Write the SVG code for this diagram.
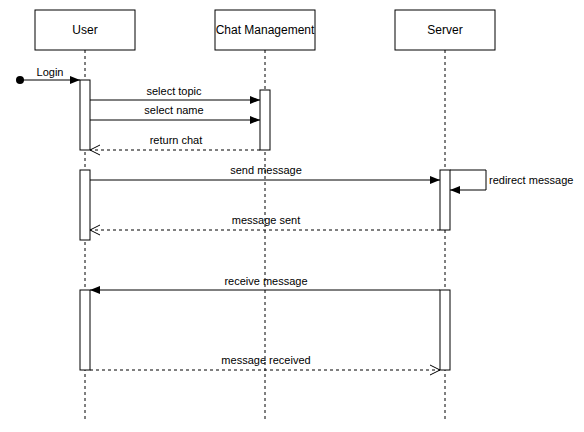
<svg xmlns="http://www.w3.org/2000/svg" width="584" height="432" viewBox="0 0 584 432">
<style>
.box{fill:#fff;stroke:#000;stroke-width:1}
.life{stroke:#000;stroke-width:1;stroke-dasharray:3 3;fill:none}
.msg{stroke:#000;stroke-width:1;fill:none}
.ret{stroke:#000;stroke-width:1;fill:none;stroke-dasharray:3 3}
text{font-family:"Liberation Sans",Arial,sans-serif;font-size:11px;fill:#000}
.hd{font-size:12px}
</style>
<defs>
<marker id="fill" viewBox="0 0 10 10" refX="10" refY="5" markerWidth="10" markerHeight="10" markerUnits="userSpaceOnUse" orient="auto">
<path d="M0,1 L10,5 L0,9 Z" fill="#000"/>
</marker>
<marker id="open" viewBox="0 0 12 12" refX="11" refY="6" markerWidth="12" markerHeight="12" markerUnits="userSpaceOnUse" orient="auto">
<path d="M1,1 L11,6 L1,11" fill="none" stroke="#000" stroke-width="1"/>
</marker>
</defs>
<g id="lifelines">
<line class="life" x1="85" y1="50" x2="85" y2="420"/>
<line class="life" x1="265" y1="50" x2="265" y2="420"/>
<line class="life" x1="445" y1="50" x2="445" y2="420"/>
</g>
<g id="user"><rect class="box" x="35" y="10" width="100" height="40"/><text class="hd" x="85" y="34" text-anchor="middle">User</text></g>
<g id="chat"><rect class="box" x="215" y="10" width="100" height="40"/><text class="hd" x="265" y="34" text-anchor="middle">Chat Management</text></g>
<g id="server"><rect class="box" x="395" y="10" width="100" height="40"/><text class="hd" x="445" y="34" text-anchor="middle">Server</text></g>
<g id="activations">
<rect class="box" x="80" y="80" width="10" height="70"/>
<rect class="box" x="260" y="90" width="10" height="60"/>
<rect class="box" x="80" y="170" width="10" height="70"/>
<rect class="box" x="440" y="170" width="10" height="60"/>
<rect class="box" x="80" y="290" width="10" height="80"/>
<rect class="box" x="440" y="290" width="10" height="80"/>
</g>
<g id="connectors">
<circle cx="20" cy="80" r="4" fill="#000"/>
<line class="msg" x1="20" y1="80" x2="80" y2="80" marker-end="url(#fill)"/>
<line class="msg" x1="90" y1="100" x2="260" y2="100" marker-end="url(#fill)"/>
<line class="msg" x1="90" y1="120" x2="260" y2="120" marker-end="url(#fill)"/>
<line class="ret" x1="260" y1="150" x2="90" y2="150" marker-end="url(#open)"/>
<line class="msg" x1="90" y1="180" x2="440" y2="180" marker-end="url(#fill)"/>
<path class="msg" d="M450,170 H486 V190 H450" marker-end="url(#fill)"/>
<line class="ret" x1="440" y1="230" x2="90" y2="230" marker-end="url(#open)"/>
<line class="msg" x1="440" y1="290" x2="90" y2="290" marker-end="url(#fill)"/>
<line class="ret" x1="90" y1="370" x2="440" y2="370" marker-end="url(#open)"/>
</g>
<g id="labels">
<text x="50" y="76" text-anchor="middle">Login</text>
<text x="174" y="95" text-anchor="middle">select topic</text>
<text x="174" y="114" text-anchor="middle">select name</text>
<text x="176" y="144" text-anchor="middle">return chat</text>
<text x="266" y="174" text-anchor="middle">send message</text>
<text x="489" y="184">redirect message</text>
<text x="266" y="224" text-anchor="middle">message sent</text>
<text x="266" y="285" text-anchor="middle">receive message</text>
<text x="266" y="364" text-anchor="middle">message received</text>
</g>
</svg>
